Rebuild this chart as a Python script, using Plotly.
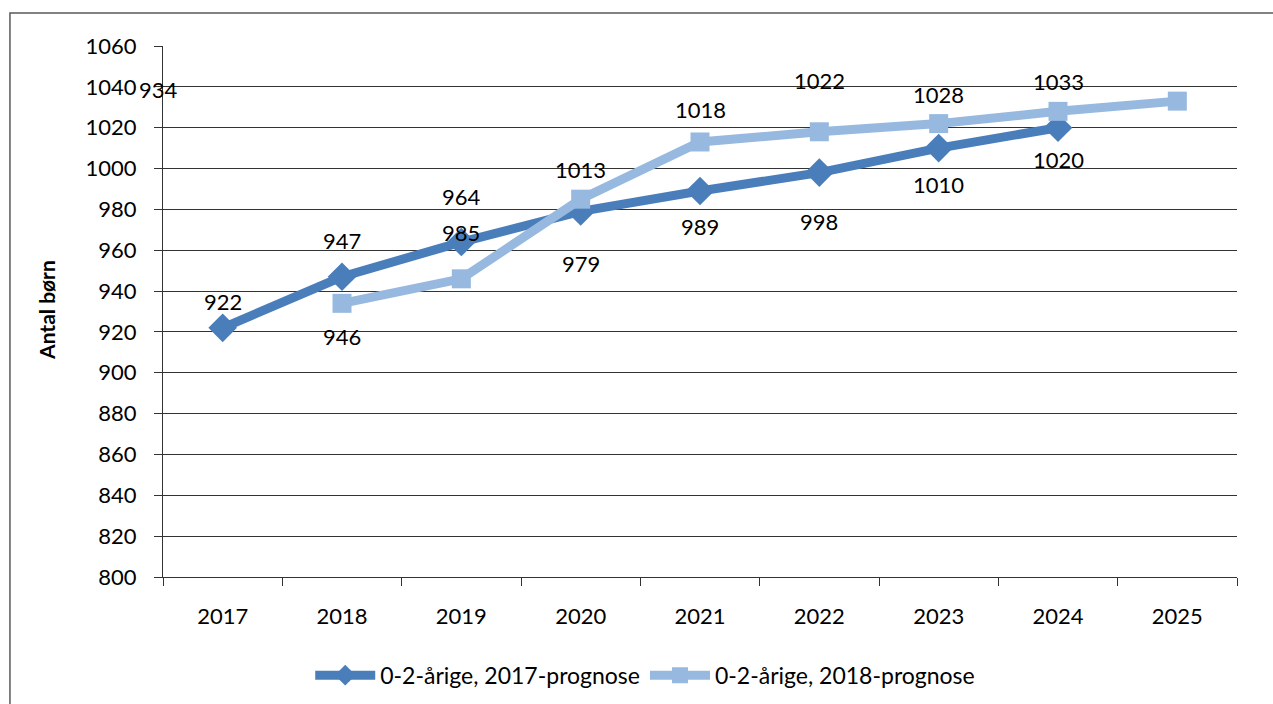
import plotly.graph_objects as go

years = ["2017", "2018", "2019", "2020", "2021", "2022", "2023", "2024", "2025"]
prog2017 = [922, 947, 964, 979, 989, 998, 1010, 1020]
prog2018 = [934, 946, 985, 1013, 1018, 1022, 1028, 1033]
name2017 = "0-2-årige, 2017-prognose"
name2018 = "0-2-årige, 2018-prognose"

# label placement as in the original (category shift, pixel shifts)
lab17_dx = [0, 0, 0, 0, 0, 0, 0, 0]
lab17_dy = [26, 36, 46, -52, -35, -49, -36, -32]
lab18_dx = [-1, -1, -1, -1, -1, -1, -1, -1]
lab18_xs = [-64, 0, 0, 0, 0, 0, 0, 0]
lab18_dy = [214, -58, -33, -28, 22, 43, 17, 20]

dark = "#4A7EBB"
light = "#97B9E0"
font = "Lato"

fig = go.Figure()
fig.add_trace(go.Scatter(x=years[:8], y=prog2017, name=name2017, mode="lines+markers",
                         line=dict(color=dark, width=9),
                         marker=dict(symbol="diamond", size=22, color=dark)))
fig.add_trace(go.Scatter(x=years[1:], y=prog2018, name=name2018, mode="lines+markers",
                         line=dict(color=light, width=9),
                         marker=dict(symbol="square", size=19, color=light)))

ann = []
for i, v in enumerate(prog2017):
    ann.append(dict(x=i + lab17_dx[i], y=v, text=str(v), showarrow=False, yshift=lab17_dy[i],
                    xref="x", yref="y"))
for i, v in enumerate(prog2018):
    ann.append(dict(x=i + 1 + lab18_dx[i], y=v, text=str(v), showarrow=False, yshift=lab18_dy[i],
                    xshift=lab18_xs[i], xref="x", yref="y"))
ann.append(dict(x=-0.108, y=0.503, xref="paper", yref="paper", text="<b>Antal børn</b>",
                xanchor="center", yanchor="middle",
                textangle=-90, showarrow=False, font=dict(size=21, family=font)))

fig.update_layout(
    width=1273, height=704,
    margin=dict(l=163, r=36, t=46, b=127, autoexpand=False),
    paper_bgcolor="white", plot_bgcolor="white",
    font=dict(family=font, size=22, color="black"),
    showlegend=True,
    legend=dict(orientation="h", x=0.449, y=-0.185, xanchor="center", yanchor="middle",
                font=dict(size=23), itemwidth=60),
    annotations=ann,
    shapes=[dict(type="rect", xref="paper", yref="paper", x0=-0.1425, x1=1.2, y0=-0.5, y1=1.062,
                 line=dict(color="#5a5a5a", width=1.5), layer="below")],
)
fig.update_xaxes(type="category", categoryarray=years, range=[-0.5, 8.5],
                 showline=True, linecolor="#333333", linewidth=1,
                 ticks="outside", tickson="boundaries", ticklen=8, tickcolor="#333333",
                 showgrid=False, ticklabelstandoff=20)
fig.update_yaxes(range=[800, 1060], dtick=20, showline=True, linecolor="#333333", linewidth=1,
                 ticks="outside", ticklen=8, tickcolor="#333333",
                 showgrid=True, gridcolor="#333333", gridwidth=1, zeroline=False,
                 ticklabelstandoff=13)

fig.write_html("out.html", config={"displayModeBar": False},
               post_script="document.body.style.margin='0';document.body.style.overflow='hidden';")
